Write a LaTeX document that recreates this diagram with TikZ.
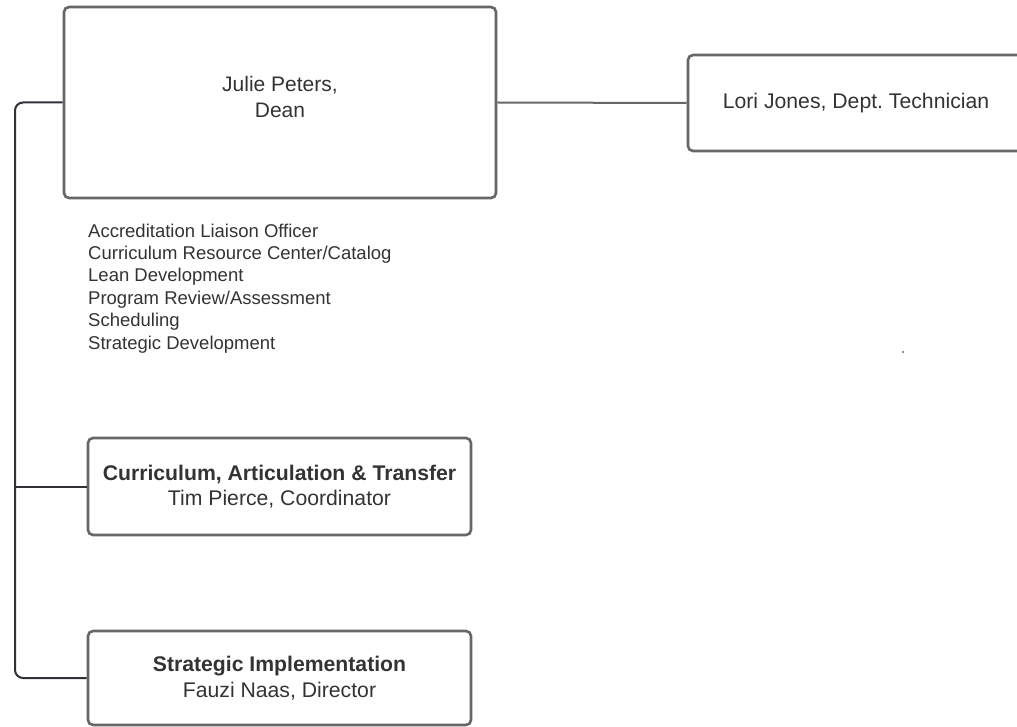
\documentclass[tikz,border=0pt]{standalone}
\usepackage{fontspec}
\setmainfont{Liberation Sans}
\usepackage{tikz}
\usetikzlibrary{calc,positioning}
\definecolor{boxgray}{HTML}{666666}
\definecolor{txtgray}{HTML}{333333}
\definecolor{linkdark}{HTML}{2E3138}
\frenchspacing

\begin{document}
\begin{tikzpicture}[x=1pt,y=-1pt,
  unit/.style={draw=boxgray,line width=2.6pt,rounded corners=5pt,align=center,
    text=txtgray,font=\fontsize{21.2}{25.5}\selectfont,inner sep=0pt},
  duties/.style={align=left,text=txtgray,font=\fontsize{18.5}{22.4}\selectfont,inner sep=0pt},
  link/.style={draw=linkdark,line width=2pt,rounded corners=8pt},
  peer/.style={draw=boxgray,line width=2pt}]
  \useasboundingbox (0,0) rectangle (1017,727);
  \clip (0,0) rectangle (1017,727);

  \node[unit,minimum width=432pt,minimum height=191pt] (dean) at (280,102.5) {};
  \node[text=txtgray,font=\fontsize{21}{25.5}\selectfont,align=center] (deantxt) at (280,97) {Julie Peters,\\Dean};
  \node[unit,minimum width=336pt,minimum height=96pt] (tech) at (856,103) {Lori Jones, Dept. Technician};
  \node[duties,anchor=north west] (list) at (88,223.5) {Accreditation Liaison Officer\\Curriculum Resource Center/Catalog\\Lean Development\\Program Review/Assessment\\Scheduling\\Strategic Development};
  \node[unit,minimum width=383pt,minimum height=97pt] (cat) at (279.5,486.5) {\textbf{Curriculum, Articulation \& Transfer}\\Tim Pierce, Coordinator};
  \node[unit,minimum width=383pt,minimum height=94pt] (impl) at (279.5,678) {\textbf{Strategic Implementation}\\Fauzi Naas, Director};
  \coordinate (spine) at (15,400);
  \fill[boxgray] (903,352) circle (1.1pt);

  \draw[peer] (dean.east) -- (tech.west);
  \draw[link] (dean.west) -- (dean.west -| spine) |- (impl.west);
  \draw[link] (cat.west -| spine) -- (cat.west);
\end{tikzpicture}
\end{document}
